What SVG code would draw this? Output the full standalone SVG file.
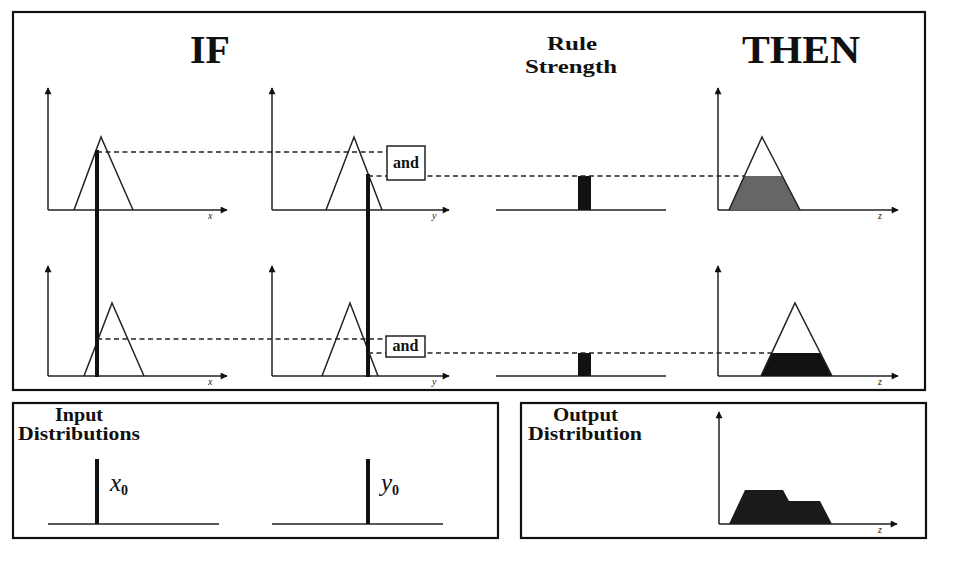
<svg xmlns="http://www.w3.org/2000/svg" width="959" height="575" viewBox="0 0 959 575">
<defs>
<marker id="ah" viewBox="0 0 10 10" refX="9" refY="5" markerWidth="10" markerHeight="7" markerUnits="userSpaceOnUse" orient="auto">
<path d="M0,0 L10,5 L0,10 z" fill="#111"/>
</marker>
<style>
.frame{fill:none;stroke:#111;stroke-width:2.2}
.axis{fill:none;stroke:#222;stroke-width:1.5}
.tri{fill:none;stroke:#222;stroke-width:1.5}
.dash{fill:none;stroke:#222;stroke-width:1.3;stroke-dasharray:5 3.5}
.thick{stroke:#111;stroke-width:4}
.base{stroke:#222;stroke-width:1.5}
.title{font-family:"Liberation Serif",serif;font-weight:bold;font-size:40px;fill:#111}
.sub{font-family:"Liberation Serif",serif;font-weight:bold;font-size:19px;fill:#111}
.lbl{font-family:"Liberation Serif",serif;font-style:italic;font-size:10px;fill:#222}
.var{font-family:"Liberation Serif",serif;font-style:italic;font-size:25px;fill:#111}
.sub0{font-family:"Liberation Serif",serif;font-style:normal;font-weight:bold;font-size:14px;fill:#111}
.andbox{fill:#fff;stroke:#222;stroke-width:1.5}
.andt{font-family:"Liberation Serif",serif;font-weight:bold;font-size:16px;fill:#111}
</style>
</defs>
<rect width="959" height="575" fill="#fff"/>

<g id="frames">
<rect class="frame" x="13" y="12" width="912" height="378"/>
<rect class="frame" x="13" y="403" width="485" height="135"/>
<rect class="frame" x="521" y="403" width="405" height="135"/>
</g>

<g id="titles">
<text class="title" x="190" y="63" textLength="40" lengthAdjust="spacingAndGlyphs">IF</text>
<text class="title" x="742" y="63" textLength="118" lengthAdjust="spacingAndGlyphs">THEN</text>
<text class="sub" x="547" y="50" textLength="50" lengthAdjust="spacingAndGlyphs">Rule</text>
<text class="sub" x="525" y="73" textLength="92" lengthAdjust="spacingAndGlyphs">Strength</text>
</g>

<g id="plot-r1-x">
<path class="axis" d="M48,210 V88" marker-end="url(#ah)"/>
<path class="axis" d="M48,210 H227" marker-end="url(#ah)"/>
<text class="lbl" x="208" y="219">x</text>
<path class="tri" d="M74,210 L101,137 L133,210"/>
</g>
<g id="plot-r1-y">
<path class="axis" d="M272,210 V88" marker-end="url(#ah)"/>
<path class="axis" d="M272,210 H449" marker-end="url(#ah)"/>
<text class="lbl" x="432" y="219">y</text>
<path class="tri" d="M326,210 L354,137 L382,210"/>
</g>
<g id="plot-r2-x">
<path class="axis" d="M48,376 V266" marker-end="url(#ah)"/>
<path class="axis" d="M48,376 H227" marker-end="url(#ah)"/>
<text class="lbl" x="208" y="385">x</text>
<path class="tri" d="M84,376 L112,303 L144,376"/>
</g>
<g id="plot-r2-y">
<path class="axis" d="M272,376 V266" marker-end="url(#ah)"/>
<path class="axis" d="M272,376 H449" marker-end="url(#ah)"/>
<text class="lbl" x="432" y="385">y</text>
<path class="tri" d="M322,376 L350,303 L378,376"/>
</g>

<g id="rule-strength">
<line class="base" x1="496" y1="210" x2="666" y2="210"/>
<rect x="578" y="176" width="13" height="34" fill="#111"/>
<line class="base" x1="496" y1="376" x2="666" y2="376"/>
<rect x="578" y="353" width="13" height="23" fill="#111"/>
</g>

<g id="plot-r1-z">
<path class="axis" d="M718,210 V88" marker-end="url(#ah)"/>
<path class="axis" d="M718,210 H898" marker-end="url(#ah)"/>
<text class="lbl" x="878" y="219">z</text>
<path d="M729,210 L744.4,176 L782.3,176 L800,210 z" fill="#666"/>
<path class="tri" d="M729,210 L762,137 L800,210"/>
</g>
<g id="plot-r2-z">
<path class="axis" d="M718,376 V266" marker-end="url(#ah)"/>
<path class="axis" d="M718,376 H898" marker-end="url(#ah)"/>
<text class="lbl" x="878" y="385">z</text>
<path d="M761,376 L771.7,353 L820.3,353 L832,376 z" fill="#111"/>
<path class="tri" d="M761,376 L795,303 L832,376"/>
</g>

<g id="connectors">
<line class="thick" x1="97" y1="150" x2="97" y2="377"/>
<line class="thick" x1="368" y1="174" x2="368" y2="377"/>
<line class="dash" x1="97" y1="152" x2="387" y2="152"/>
<line class="dash" x1="368" y1="176" x2="744" y2="176"/>
<line class="dash" x1="97" y1="339" x2="386" y2="339"/>
<line class="dash" x1="368" y1="353" x2="772" y2="353"/>
</g>

<g id="and-1">
<rect class="andbox" x="387" y="146" width="38" height="34"/>
<text class="andt" x="406" y="168" text-anchor="middle">and</text>
</g>
<g id="and-2">
<rect class="andbox" x="386" y="336" width="39" height="21"/>
<text class="andt" x="405.5" y="351" text-anchor="middle">and</text>
</g>

<g id="input-distributions">
<text class="sub" x="55" y="421" textLength="48" lengthAdjust="spacingAndGlyphs">Input</text>
<text class="sub" x="18" y="440" textLength="122" lengthAdjust="spacingAndGlyphs">Distributions</text>
<line class="base" x1="48" y1="524" x2="219" y2="524"/>
<line class="thick" x1="97" y1="459" x2="97" y2="524"/>
<text class="var" x="110" y="491">x<tspan class="sub0" dy="4">0</tspan></text>
<line class="base" x1="272" y1="524" x2="443" y2="524"/>
<line class="thick" x1="368" y1="459" x2="368" y2="524"/>
<text class="var" x="381" y="491">y<tspan class="sub0" dy="4">0</tspan></text>
</g>

<g id="output-distribution">
<text class="sub" x="553" y="421" textLength="65" lengthAdjust="spacingAndGlyphs">Output</text>
<text class="sub" x="528" y="440" textLength="114" lengthAdjust="spacingAndGlyphs">Distribution</text>
<path class="axis" d="M719,524 V412" marker-end="url(#ah)"/>
<path class="axis" d="M719,524 H897" marker-end="url(#ah)"/>
<text class="lbl" x="878" y="533">z</text>
<path d="M729,524 L745,490 L783,490 L789,501 L820,501 L832,524 z" fill="#1a1a1a"/>
</g>
</svg>
